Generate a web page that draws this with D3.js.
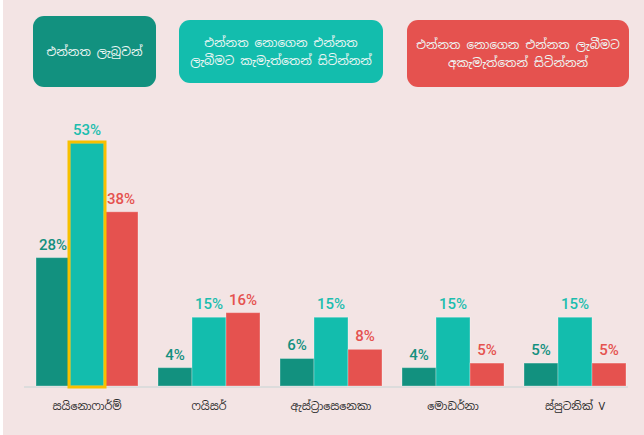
<!DOCTYPE html>
<html>
<head>
<meta charset="utf-8">
<script src="https://cdn.jsdelivr.net/npm/d3@7"></script>
<style>
  body { margin: 0; background: #fff; }
  svg { display: block; }
</style>
</head>
<body>
<div id="chart"></div>
<script>
// vaccine categories and the three groups (percent)
var vaccines = ["සයිනොෆාර්ම්", "ෆයිසර්", "ඇස්ට්‍රාසෙනෙකා", "මොඩර්නා", "ස්පුටනික් V"];
var vaccinated = [28, 4, 6, 4, 5];
var willing = [53, 15, 15, 15, 15];
var unwilling = [38, 16, 8, 5, 5];

var seriesNames = ["vaccinated", "willing", "unwilling"];
var seriesColors = ["#12917f", "#13bdad", "#e5524f"];
var labelColors = ["#14907f", "#1cbdae", "#e5524f"];
var legendLines = [
    ["එන්නත ලැබුවන්"],
    ["එන්නත නොගෙන එන්නත", "ලැබීමට කැමැත්තෙන් සිටින්නන්"],
    ["එන්නත නොගෙන එන්නත ලැබීමට", "අකැමැත්තෙන් සිටින්නන්"]
];

var width = 644, height = 435;
var baseline = 386;

var data = vaccines.map(function(v, i) {
    return { name: v, values: [vaccinated[i], willing[i], unwilling[i]] };
});

var svg = d3.select("#chart").append("svg")
    .attr("width", width)
    .attr("height", height);

svg.append("rect")
    .attr("x", 3).attr("y", 0)
    .attr("width", width - 3).attr("height", height)
    .attr("fill", "#f3e4e4");

var x0 = d3.scaleBand()
    .domain(vaccines)
    .range([26, 636])
    .paddingInner(0.164)
    .paddingOuter(0.082);

var x1 = d3.scaleBand()
    .domain(seriesNames)
    .range([0, x0.bandwidth()]);

var y = d3.scaleLinear()
    .domain([0, 53])
    .range([baseline, 143]);

// legend boxes
var legendBoxes = [
    { x: 33, y: 16, w: 123, h: 71 },
    { x: 179, y: 20, w: 204, h: 63 },
    { x: 407, y: 20, w: 222, h: 67 }
];

var legend = svg.append("g").selectAll("g")
    .data(legendBoxes)
    .enter().append("g");

legend.append("rect")
    .attr("x", d => d.x).attr("y", d => d.y)
    .attr("width", d => d.w).attr("height", d => d.h)
    .attr("rx", 11)
    .attr("fill", (d, i) => seriesColors[i]);

legend.each(function(d, i) {
    var lines = legendLines[i];
    var cy = d.y + d.h / 2;
    var lh = 18;
    d3.select(this).selectAll("text")
        .data(lines)
        .enter().append("text")
        .attr("x", d.x + d.w / 2)
        .attr("y", (t, j) => cy + (j - (lines.length - 1) / 2) * lh)
        .attr("dy", "0.35em")
        .attr("text-anchor", "middle")
        .attr("fill", "#eef7f5")
        .style("font-family", "'Noto Sans Sinhala', 'Noto Sans', sans-serif")
        .style("font-size", "12px")
        .text(t => t);
});

// baseline
svg.append("line")
    .attr("x1", 24).attr("x2", 628)
    .attr("y1", baseline + 1).attr("y2", baseline + 1)
    .attr("stroke", "#dcdcdc")
    .attr("stroke-width", 2);

var groups = svg.append("g").selectAll("g")
    .data(data)
    .enter().append("g")
    .attr("transform", d => "translate(" + x0(d.name) + ",0)");

groups.selectAll("rect")
    .data(d => d.values)
    .enter().append("rect")
    .attr("x", (v, i) => x1(seriesNames[i]))
    .attr("y", v => y(v))
    .attr("width", x1.bandwidth())
    .attr("height", v => baseline - y(v))
    .attr("fill", (v, i) => seriesColors[i])
    .attr("stroke", "rgba(255,255,255,0.3)")
    .attr("stroke-width", 1);

groups.selectAll("text.val")
    .data(d => d.values)
    .enter().append("text")
    .attr("class", "val")
    .attr("x", (v, i) => x1(seriesNames[i]) + x1.bandwidth() / 2)
    .attr("y", v => y(v) - 8)
    .attr("text-anchor", "middle")
    .attr("fill", (v, i) => labelColors[i])
    .style("font-family", "Roboto, sans-serif")
    .style("font-weight", "500")
    .style("font-size", "15px")
    .text(v => v + "%");

// highlight on the biggest bar
var first = data[0];
svg.append("rect")
    .attr("x", x0(first.name) + x1("willing") - 1)
    .attr("y", y(first.values[1]) - 1)
    .attr("width", x1.bandwidth() + 2)
    .attr("height", baseline - y(first.values[1]) + 2)
    .attr("fill", "none")
    .attr("stroke", "#f7c000")
    .attr("stroke-width", 3);

// category labels
svg.append("g").selectAll("text")
    .data(vaccines)
    .enter().append("text")
    .attr("x", d => x0(d) + x0.bandwidth() / 2)
    .attr("y", 410)
    .attr("text-anchor", "middle")
    .attr("fill", "#2b2b2b")
    .style("font-family", "'Noto Sans Sinhala', 'Noto Sans', sans-serif")
    .style("font-size", "11px")
    .text(d => d);
</script>
</body>
</html>
